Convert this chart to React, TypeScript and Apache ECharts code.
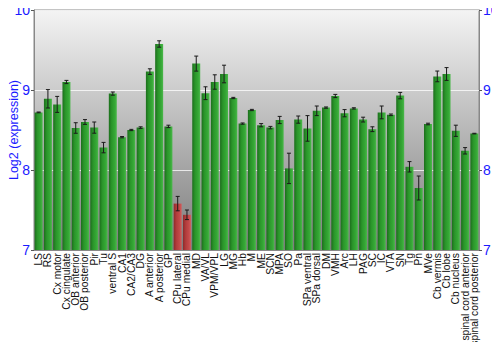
import React, { useEffect, useRef } from "react";
import * as echarts from "echarts";

const categories = [
  "LS", "RS", "Cx motor", "Cx cingulate", "OB anterior", "OB posterior", "Pir", "Tu",
  "ventral S", "CA1", "CA2/CA3", "DG", "A anterior", "A posterior", "GP", "CPu lateral",
  "CPu medial", "MD", "VA/VL", "VPM/VPL", "LG", "MG", "Hb", "M", "ME", "SCN", "MPA",
  "SO", "Pa", "SPa ventral", "SPa dorsal", "DM", "VMH", "Arc", "LH", "PAG", "SC", "IC",
  "VTA", "SN", "Tg", "Pn", "MVe", "Cb vermis", "Cb lobe", "Cb nucleus",
  "spinal cord anterior", "spinal cord posterior",
];

const values = [
  8.72, 8.89, 8.82, 9.10, 8.525, 8.60, 8.53, 8.28,
  8.955, 8.41, 8.50, 8.53, 9.23, 9.575, 8.545, 7.58,
  7.44, 9.33, 8.96, 9.10, 9.20, 8.90, 8.58, 8.75, 8.56, 8.53, 8.625,
  8.02, 8.63, 8.52, 8.74, 8.78, 8.925, 8.71, 8.77, 8.63, 8.51, 8.72,
  8.69, 8.93, 8.04, 7.775, 8.575, 9.17, 9.20, 8.49,
  8.24, 8.455,
];

const errors = [
  0.005, 0.115, 0.1, 0.02, 0.066, 0.03, 0.07, 0.065,
  0.02, 0.008, 0.008, 0.01, 0.035, 0.04, 0.015, 0.09,
  0.06, 0.094, 0.08, 0.09, 0.11, 0.008, 0.008, 0.008, 0.02, 0.015, 0.045,
  0.19, 0.045, 0.16, 0.06, 0.008, 0.02, 0.045, 0.008, 0.03, 0.03, 0.08,
  0.01, 0.04, 0.065, 0.15, 0.01, 0.067, 0.08, 0.07,
  0.04, 0.004,
];

const highlighted = ["CPu lateral", "CPu medial"];

const yTicks = [7, 8, 9, 10];

export default function App() {
  const ref = useRef<HTMLDivElement>(null);
  useEffect(() => {
    if (!ref.current) return;
    const chart = echarts.init(ref.current, null, { renderer: "svg" });
    const green = new echarts.graphic.LinearGradient(0, 0, 1, 0, [
      { offset: 0, color: "#1c6e1c" },
      { offset: 0.35, color: "#2a952a" },
      { offset: 0.75, color: "#36a836" },
      { offset: 1, color: "#4cb84c" },
    ]);
    const red = new echarts.graphic.LinearGradient(0, 0, 1, 0, [
      { offset: 0, color: "#8e2a2a" },
      { offset: 0.35, color: "#b23c3c" },
      { offset: 0.75, color: "#c44a4a" },
      { offset: 1, color: "#d06060" },
    ]);
    const bg = new echarts.graphic.LinearGradient(0, 0, 0, 1, [
      { offset: 0, color: "#f4f4f4" },
      { offset: 1, color: "#7c7c7c" },
    ]);
    const axisLabelStyle = {
      color: "#1a1aff",
      fontSize: 14,
      fontFamily: "Liberation Sans, Arial, sans-serif",
    };
    chart.setOption({
      animation: false,
      grid: {
        left: 34,
        right: 21,
        top: 10,
        bottom: 100,
        outerBoundsMode: "none",
        containLabel: false,
        show: true,
        backgroundColor: bg,
        borderColor: "#888",
        borderWidth: 1,
      },
      xAxis: {
        type: "category",
        data: categories,
        axisLine: { lineStyle: { color: "#888" } },
        axisTick: { show: false },
        axisLabel: {
          interval: 0,
          rotate: 90,
          margin: 3,
          fontSize: 10.3,
          color: "#111",
          fontFamily: "Liberation Sans, Arial, sans-serif",
        },
      },
      yAxis: [
        {
          type: "value",
          min: yTicks[0],
          max: yTicks[yTicks.length - 1],
          interval: 1,
          position: "left",
          name: "Log2 (expression)",
          nameLocation: "middle",
          nameGap: 14,
          nameMoveOverlap: false,
          nameTextStyle: {
            color: "#1a1aff",
            fontSize: 12.5,
            fontFamily: "Liberation Sans, Arial, sans-serif",
          },
          axisLine: { show: true, lineStyle: { color: "#888" } },
          axisTick: { show: true, length: 3, lineStyle: { color: "#555" } },
          axisLabel: { ...axisLabelStyle, margin: 4 },
          splitLine: { show: true, lineStyle: { color: "rgba(255,255,255,0.75)", width: 1 } },
        },
        {
          type: "value",
          min: yTicks[0],
          max: yTicks[yTicks.length - 1],
          interval: 1,
          position: "right",
          axisLine: { show: true, lineStyle: { color: "#888" } },
          axisTick: { show: true, length: 3, lineStyle: { color: "#555" } },
          axisLabel: { ...axisLabelStyle, margin: 4 },
          splitLine: { show: false },
        },
      ],
      series: [
        {
          type: "bar",
          barCategoryGap: "14%",
          data: values.map((v, i) => ({
            value: v,
            itemStyle: {
              color: highlighted.includes(categories[i]) ? red : green,
            },
          })),
        },
        {
          type: "custom",
          z: 5,
          data: values.map((v, i) => [i, v - errors[i], v + errors[i]]),
          renderItem: (params: any, api: any) => {
            const idx = api.value(0);
            const lo = api.coord([idx, api.value(1)]);
            const hi = api.coord([idx, api.value(2)]);
            const half = 2;
            const style = { stroke: "#1a1a1a", lineWidth: 1 };
            return {
              type: "group",
              children: [
                { type: "line", shape: { x1: hi[0], y1: hi[1], x2: lo[0], y2: lo[1] }, style },
                { type: "line", shape: { x1: hi[0] - half, y1: hi[1], x2: hi[0] + half, y2: hi[1] }, style },
                { type: "line", shape: { x1: lo[0] - half, y1: lo[1], x2: lo[0] + half, y2: lo[1] }, style },
              ],
            };
          },
        },
      ],
    });
    return () => chart.dispose();
  }, []);
  return <div ref={ref} style={{ width: 500, height: 350, margin: -8 }} />;
}
